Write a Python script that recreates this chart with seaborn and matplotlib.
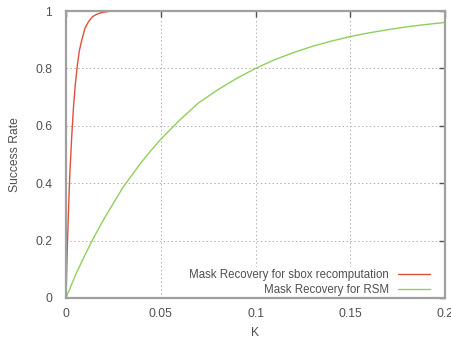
import matplotlib
matplotlib.use("Agg")
import matplotlib.pyplot as plt
import seaborn as sns
import pandas as pd

sns.set_style("white")
plt.rcParams['font.family'] = ['Liberation Sans', 'DejaVu Sans']

label_sbox = "Mask Recovery for sbox recomputation"
label_rsm = "Mask Recovery for RSM"

k_sbox = [0, 0.0005, 0.001, 0.0015, 0.002, 0.003, 0.004, 0.005, 0.006, 0.007,
          0.008, 0.01, 0.012, 0.014, 0.016, 0.018, 0.02, 0.022, 0.025]
rate_sbox = [0, 0.13, 0.24, 0.34, 0.43, 0.56, 0.67, 0.75, 0.81, 0.86,
             0.89, 0.94, 0.964, 0.98, 0.988, 0.993, 0.996, 0.998, 1.0]

k_rsm = [0, 0.005, 0.01, 0.015, 0.02, 0.025, 0.03, 0.035, 0.04, 0.045, 0.05,
         0.06, 0.07, 0.08, 0.09, 0.1, 0.11, 0.12, 0.13, 0.14, 0.15, 0.16,
         0.17, 0.18, 0.19, 0.2]
rate_rsm = [0, 0.08, 0.15, 0.215, 0.275, 0.33, 0.385, 0.43, 0.475, 0.515, 0.553,
            0.62, 0.68, 0.725, 0.765, 0.80, 0.83, 0.855, 0.877, 0.895, 0.911, 0.924,
            0.935, 0.945, 0.953, 0.96]

x_ticks = [0, 0.05, 0.1, 0.15, 0.2]
x_tick_labels = ["0", "0.05", "0.1", "0.15", "0.2"]
y_ticks = [0, 0.2, 0.4, 0.6, 0.8, 1]
y_tick_labels = ["0", "0.2", "0.4", "0.6", "0.8", "1"]

df = pd.concat([
    pd.DataFrame({"K": k_sbox, "rate": rate_sbox, "series": label_sbox}),
    pd.DataFrame({"K": k_rsm, "rate": rate_rsm, "series": label_rsm}),
])

fig = plt.figure(figsize=(4.52, 3.38), dpi=100)
ax = fig.add_axes([66/452, 1 - 298/338, (445 - 66)/452, (298 - 11)/338])

sns.lineplot(data=df, x="K", y="rate", hue="series",
             palette={label_sbox: "#e0503a", label_rsm: "#8fd05a"},
             linewidth=1.0, ax=ax, sort=False, estimator=None)

ax.set_xlim(0, 0.2)
ax.set_ylim(0, 1)
ax.set_xticks(x_ticks)
ax.set_xticklabels(x_tick_labels)
ax.set_yticks(y_ticks)
ax.set_yticklabels(y_tick_labels)
ax.grid(True, color="#b0b0b0", linestyle=(0, (1.5, 2.5)), linewidth=0.7)
ax.tick_params(direction="in", length=4, width=1, colors="#505050",
               labelsize=8.7, top=True, right=True)
ax.tick_params(axis="x", pad=7)
ax.tick_params(axis="y", pad=10)
for sp in ax.spines.values():
    sp.set_color("#a0a0a0")
    sp.set_linewidth(1.6)
    sp.set_zorder(10)
ax.set_xlabel("K", fontsize=8.7, color="#505050", labelpad=5)
ax.set_ylabel("Success Rate", fontsize=8.7, color="#505050", labelpad=10)

leg = ax.legend(loc="lower right", frameon=True, markerfirst=False,
                fontsize=8.3, handlelength=2.8, borderpad=0.2,
                labelspacing=0.2, handletextpad=0.78,
                bbox_to_anchor=(0.982, -0.02))
leg.get_frame().set_facecolor("white")
leg.get_frame().set_edgecolor("white")
leg.get_frame().set_alpha(1)
leg.set_zorder(5)
for t in leg.get_texts():
    t.set_color("#505050")
    t.set_ha("right")
leg._legend_box.align = "right"

fig.savefig("out.png", dpi=100)
